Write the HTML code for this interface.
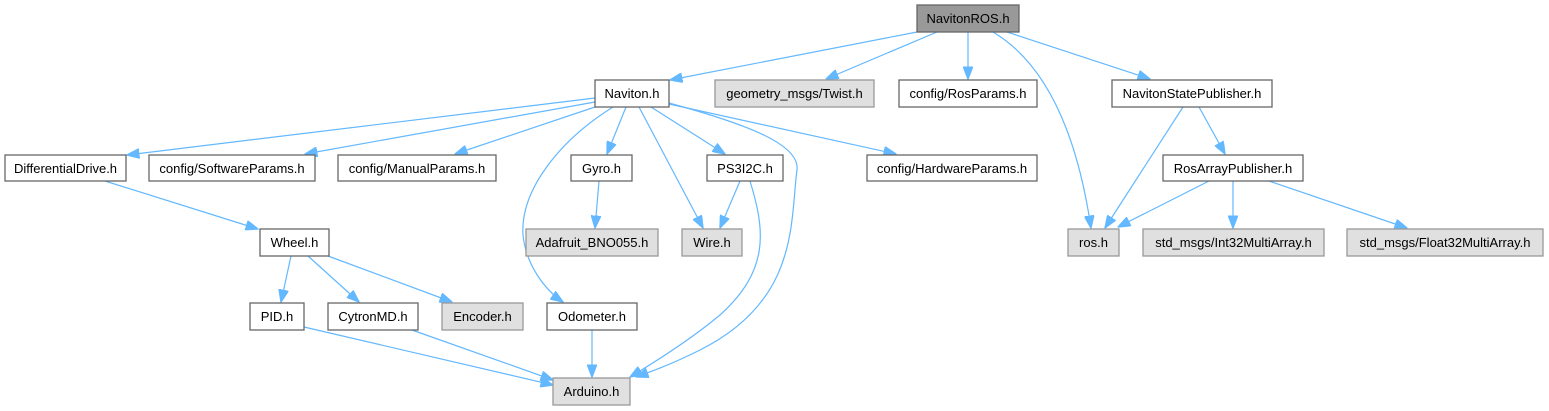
<!DOCTYPE html>
<html><head><meta charset="utf-8"><style>
html,body{margin:0;padding:0;background:#fff;width:1549px;height:411px;overflow:hidden}
svg{display:block}
text{font-family:"Liberation Sans",Arial,sans-serif;font-size:13px;fill:#000}
.n{fill:#fff;stroke:#666;stroke-width:1.3}
.g{fill:#e0e0e0;stroke:#999;stroke-width:1.3}
.r{fill:#999;stroke:#666;stroke-width:1.3}
path.e{fill:none;stroke:#63b8ff;stroke-width:1.2}
</style></head><body>
<svg width="1549" height="411" viewBox="0 0 1549 411">
<defs><marker id="a" markerWidth="13" markerHeight="10" refX="12.5" refY="5" orient="auto" markerUnits="userSpaceOnUse"><path d="M0,0 L13,5 L0,10 z" fill="#63b8ff" stroke="#63b8ff"/></marker></defs>
<g marker-end="url(#a)">
<path class="e" d="M917,32 L670,80"/>
<path class="e" d="M937,32 L826,79"/>
<path class="e" d="M968,32 L968,79"/>
<path class="e" d="M993,32 C1040,60 1075,120 1091,228"/>
<path class="e" d="M1007,32 L1150,79"/>
<path class="e" d="M595,98 L127,155"/>
<path class="e" d="M595,102 L305,154"/>
<path class="e" d="M595,107 L455,154"/>
<path class="e" d="M613,107 C560,140 520,190 523,235 C526,265 545,290 563,302"/>
<path class="e" d="M626,107 L607,154"/>
<path class="e" d="M639,107 L703,228"/>
<path class="e" d="M651,107 L725,154"/>
<path class="e" d="M669,103 C750,125 800,145 797,170 C790,220 800,300 700,350 C670,365 650,372 636,377"/>
<path class="e" d="M669,104 L896,154"/>
<path class="e" d="M740,181 L720,228"/>
<path class="e" d="M750,181 C765,230 770,270 720,315 C690,340 655,362 630,377"/>
<path class="e" d="M599,181 L595,228"/>
<path class="e" d="M592,330 L592,377"/>
<path class="e" d="M105,181 L258,229"/>
<path class="e" d="M291,256 L281,302"/>
<path class="e" d="M308,256 L359,302"/>
<path class="e" d="M328,256 L452,302"/>
<path class="e" d="M304,327 L553,385"/>
<path class="e" d="M412,330 L553,380"/>
<path class="e" d="M1183,107 L1105,228"/>
<path class="e" d="M1199,107 L1225,154"/>
<path class="e" d="M1209,181 L1118,227"/>
<path class="e" d="M1233,181 L1233,228"/>
<path class="e" d="M1269,181 L1407,228"/>
</g>
<g text-anchor="middle">
<rect class="r" x="917" y="5" width="102" height="27"/><text x="968" y="23">NavitonROS.h</text>
<rect class="n" x="595" y="80" width="74" height="27"/><text x="632" y="98">Naviton.h</text>
<rect class="g" x="715" y="80" width="159" height="27"/><text x="794.5" y="98">geometry_msgs/Twist.h</text>
<rect class="n" x="899" y="80" width="138" height="27"/><text x="968" y="98">config/RosParams.h</text>
<rect class="n" x="1112" y="80" width="160" height="27"/><text x="1192" y="98">NavitonStatePublisher.h</text>
<rect class="n" x="5" y="155" width="121" height="26"/><text x="65.5" y="173">DifferentialDrive.h</text>
<rect class="n" x="149" y="155" width="166" height="26"/><text x="232" y="173">config/SoftwareParams.h</text>
<rect class="n" x="338" y="155" width="158" height="26"/><text x="417" y="173">config/ManualParams.h</text>
<rect class="n" x="571" y="155" width="61" height="26"/><text x="601.5" y="173">Gyro.h</text>
<rect class="n" x="707" y="155" width="76" height="26"/><text x="745" y="173">PS3I2C.h</text>
<rect class="n" x="867" y="155" width="170" height="26"/><text x="952" y="173">config/HardwareParams.h</text>
<rect class="n" x="1163" y="155" width="140" height="26"/><text x="1233" y="173">RosArrayPublisher.h</text>
<rect class="n" x="260" y="229" width="69" height="27"/><text x="294.5" y="247">Wheel.h</text>
<rect class="g" x="526" y="229" width="132" height="27"/><text x="592" y="247">Adafruit_BNO055.h</text>
<rect class="g" x="682" y="229" width="60" height="27"/><text x="712" y="247">Wire.h</text>
<rect class="g" x="1068" y="229" width="51" height="27"/><text x="1093.5" y="247">ros.h</text>
<rect class="g" x="1143" y="229" width="181" height="27"/><text x="1233.5" y="247">std_msgs/Int32MultiArray.h</text>
<rect class="g" x="1347" y="229" width="196" height="27"/><text x="1445" y="247">std_msgs/Float32MultiArray.h</text>
<rect class="n" x="250" y="303" width="54" height="27"/><text x="277" y="321">PID.h</text>
<rect class="n" x="328" y="303" width="90" height="27"/><text x="373" y="321">CytronMD.h</text>
<rect class="g" x="442" y="303" width="81" height="27"/><text x="482.5" y="321">Encoder.h</text>
<rect class="n" x="547" y="303" width="90" height="27"/><text x="592" y="321">Odometer.h</text>
<rect class="g" x="553" y="378" width="77" height="27"/><text x="591.5" y="396">Arduino.h</text>
</g>
</svg>
</body></html>
